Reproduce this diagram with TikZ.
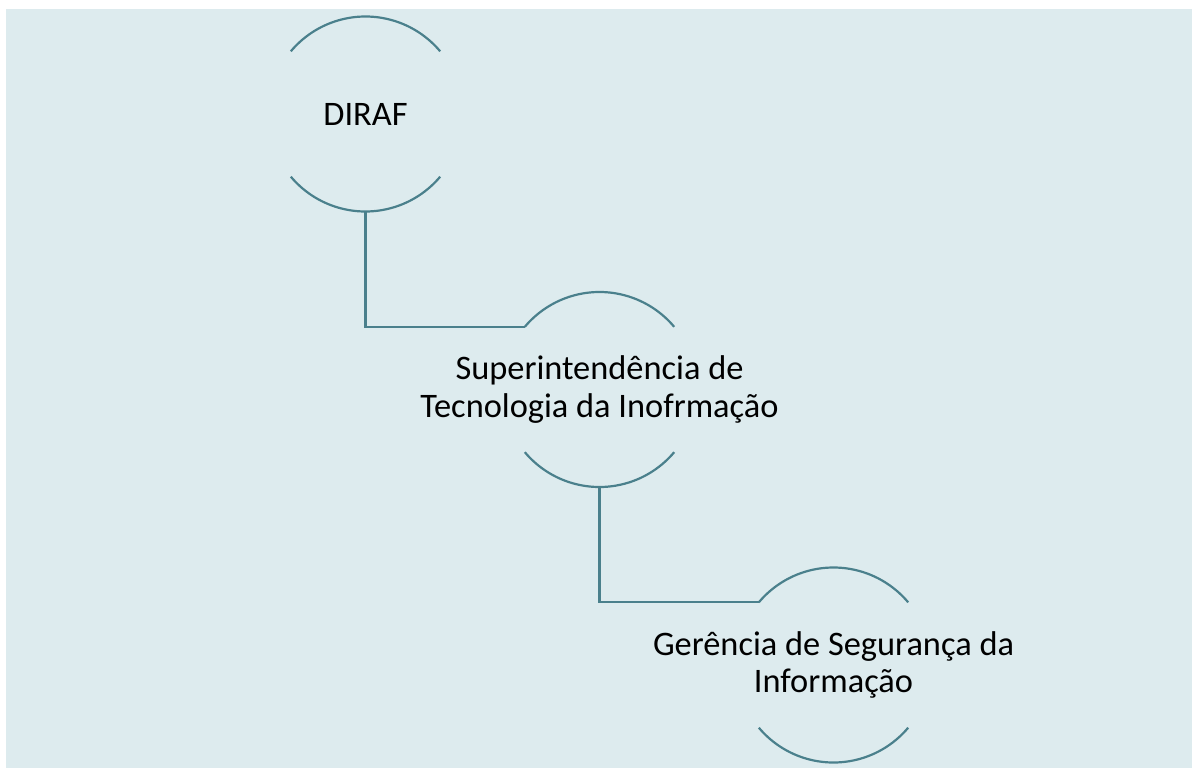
\documentclass[tikz,border=0pt]{standalone}
\usepackage{fontspec}
\setmainfont{Carlito}
\usetikzlibrary{positioning}
\definecolor{bgblue}{RGB}{221,235,238}
\definecolor{tealline}{RGB}{74,128,140}

\begin{document}
\begin{tikzpicture}[x=1bp, y=1bp,
    hub/.style={circle, minimum size=195bp, inner sep=0pt, outer sep=0pt, on grid},
    txt/.style={align=center, font=\fontsize{34.5}{38}\selectfont},
    ring/.style={draw=tealline, line width=2.2bp}]
        \useasboundingbox (0,0) rectangle (1192,-768);
        \fill[bgblue] (6,-9) rectangle (1192,-768);

        % nodes %
        \node[hub, label={[txt]center:DIRAF}] (diraf) at (365.5,-114) {};
        \node[hub, below right=275.5bp and 234bp of diraf,
              label={[txt]center:{Superintendência de\\Tecnologia da Inofrmação}}] (sti) {};
        \node[hub, below right=275.5bp and 234bp of sti,
              label={[txt]center:{Gerência de Segurança da\\Informação}}] (gsi) {};

        % arcs %
        \draw[ring] (diraf.140) arc[start angle=140, end angle=40, radius=97.5bp];
        \draw[ring] (diraf.220) arc[start angle=220, end angle=320, radius=97.5bp];
        \draw[ring] (sti.140) arc[start angle=140, end angle=40, radius=97.5bp];
        \draw[ring] (sti.220) arc[start angle=220, end angle=320, radius=97.5bp];
        \draw[ring] (gsi.140) arc[start angle=140, end angle=40, radius=97.5bp];
        \draw[ring] (gsi.220) arc[start angle=220, end angle=320, radius=97.5bp];

        % edges %
        \draw[ring] (diraf.south) |- (sti.140);
        \draw[ring] (sti.south) |- (gsi.140);
\end{tikzpicture}
\end{document}
